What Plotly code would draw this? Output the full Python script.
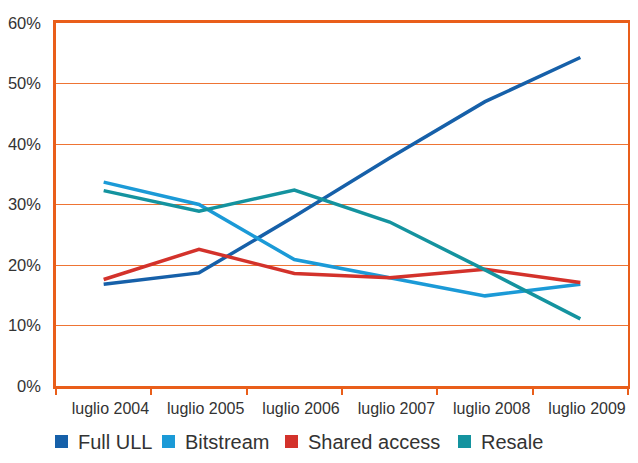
import plotly.graph_objects as go

categories = ["luglio 2004", "luglio 2005", "luglio 2006", "luglio 2007", "luglio 2008", "luglio 2009"]
full_ull = [16.8, 18.7, 28.0, 37.7, 47.0, 54.3]
bitstream = [33.7, 30.0, 20.9, 17.9, 14.9, 16.8]
shared_access = [17.6, 22.6, 18.6, 17.9, 19.3, 17.1]
resale = [32.3, 28.9, 32.4, 27.1, 19.2, 11.1]

series_names = ["Full ULL", "Bitstream", "Shared access", "Resale"]
series_values = [full_ull, bitstream, shared_access, resale]
series_colors = ["#1660a9", "#1b9ad7", "#d3322b", "#14939f"]

orange = "#e95e1a"
grid = "#ee7434"
font_family = "Liberation Sans, Arial, sans-serif"

# page body margin (8px) offsets the figure; keep it inside the window
OFF = 8
W, H = 638 - 2 * OFF, 463 - 2 * OFF
plot_left_win, plot_right_win, plot_top_win, plot_bottom_win = 56, 628, 23, 386
L = plot_left_win - OFF
R = OFF + W - plot_right_win
T = plot_top_win - OFF
B = OFF + H - plot_bottom_win
plot_w = W - L - R
plot_h = H - T - B


def px_x(px):
    return (px - plot_left_win) / plot_w


def px_y(py):
    return (plot_bottom_win - py) / plot_h


xs = list(range(len(categories)))
fig = go.Figure()
for name, vals, color in zip(series_names, series_values, series_colors):
    fig.add_trace(go.Scatter(x=xs, y=vals, mode="lines", name=name,
                             line=dict(color=color, width=3.5), showlegend=False))

# custom legend (square swatches + labels), window pixel coordinates
legend_centers = [61.5, 168.5, 291.5, 464.5]
legend_y = 441.5
sq = 6.5
for name, color, cx in zip(series_names, series_colors, legend_centers):
    fig.add_shape(type="rect", xref="paper", yref="paper",
                  x0=px_x(cx - sq), x1=px_x(cx + sq),
                  y0=px_y(legend_y + sq), y1=px_y(legend_y - sq),
                  fillcolor=color, line=dict(width=0))
    fig.add_annotation(x=px_x(cx + 14.5), y=px_y(legend_y), xref="paper", yref="paper",
                       text=name, showarrow=False, xanchor="left", yanchor="middle",
                       font=dict(size=20, color="#333333", family=font_family))

tickvals = [i - 0.5 for i in range(len(categories) + 1)]
ticktext = [""] + categories

fig.update_layout(
    width=W, height=H,
    margin=dict(l=L, r=R, t=T, b=B),
    paper_bgcolor="white", plot_bgcolor="white",
    font=dict(family=font_family, color="#333333"),
    showlegend=False,
    xaxis=dict(range=[-0.5, len(categories) - 0.5], tickvals=tickvals, ticktext=ticktext,
               ticklabelposition="outside left", ticks="outside", ticklen=6, tickwidth=2,
               tickcolor=orange, showgrid=False, zeroline=False, automargin=False,
               showline=True, linecolor=orange, linewidth=2.5, mirror=True,
               ticklabelstandoff=6,
               tickfont=dict(size=16, color="#333333")),
    yaxis=dict(range=[0, 60], dtick=10, ticksuffix="%", showgrid=True, gridcolor=grid,
               gridwidth=1, zeroline=False, showline=True, linecolor=orange,
               linewidth=2.5, mirror=True, ticks="", ticklabelstandoff=9,
               automargin=False,
               tickfont=dict(size=16.5, color="#333333")),
)

fig.write_html("out.html")
